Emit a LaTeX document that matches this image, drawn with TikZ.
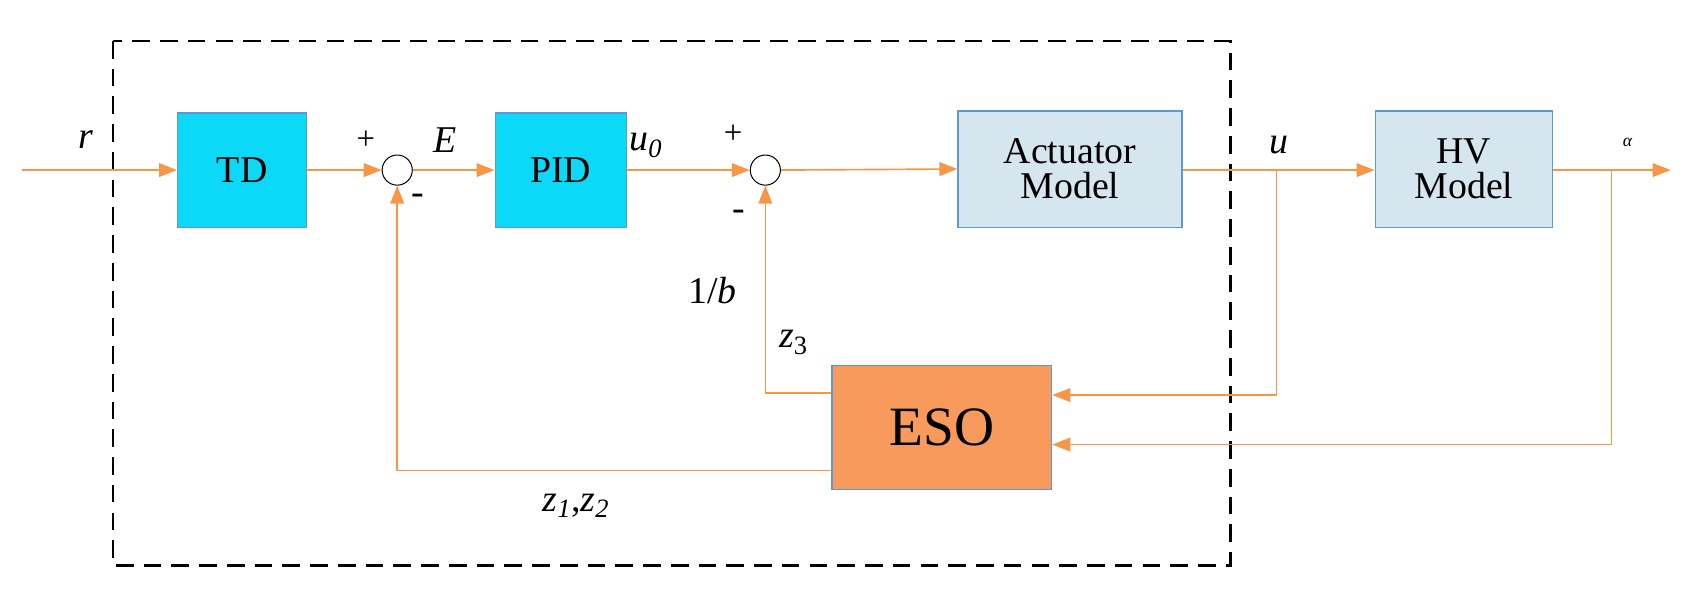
\documentclass[tikz,border=0pt]{standalone}
\usepackage{fontspec}
\setmainfont{Liberation Serif}
\usetikzlibrary{arrows.meta}
\definecolor{ln}{HTML}{F79646}
\definecolor{cy}{HTML}{0BD9F7}
\definecolor{lb}{HTML}{D6E6EF}
\definecolor{bd}{HTML}{5B9BD5}
\definecolor{es}{HTML}{F79A5B}
\begin{document}
\begin{tikzpicture}[x=0.03cm,y=-0.03cm,
 blk/.style={draw=bd,line width=1pt,inner sep=0pt,font=\fontsize{30}{32}\selectfont,align=center},
 sm/.style={circle,draw=black,line width=0.8pt,minimum size=28*0.03cm,inner sep=0pt},
 con/.style={draw=ln,line width=1.3pt},
 arr/.style={con,-{Triangle[length=0.5cm,width=0.38cm]}},
 lab/.style={font=\fontsize{30}{32}\selectfont}]
\useasboundingbox (0,0) rectangle (1570,556);
\draw[dashed,line width=2.2pt,dash pattern=on 14pt off 8pt] (105,38) rectangle (1143,525);
\node[blk,fill=cy,minimum width=120*0.03cm,minimum height=106*0.03cm] (td) at (225,158) {TD};
\node[sm] (s1) at (369,158) {};
\node[blk,fill=cy,minimum width=122*0.03cm,minimum height=106*0.03cm] (pid) at (521,158) {PID};
\node[sm] (s2) at (711,158) {};
\node[blk,fill=lb,minimum width=208*0.03cm,minimum height=108*0.03cm] (act) at (994,157) {Actuator\\[-4pt]Model};
\node[blk,fill=lb,minimum width=165*0.03cm,minimum height=108*0.03cm] (hv) at (1360,157) {HV\\[-4pt]Model};
\node[blk,fill=es,minimum width=204*0.03cm,minimum height=115*0.03cm,font=\fontsize{44}{46}\selectfont] (eso) at (875,397) {ESO};
\coordinate (in) at (20,158);
\coordinate (out) at (1552,158);
\coordinate (bu) at (1186,158);
\coordinate (ba) at (1497,158);
\draw[arr] (in) -- (td.west);
\draw[arr] (td.east) -- (s1.west);
\draw[arr] (s1.east) -- (pid.west);
\draw[arr] (pid.east) -- (s2.west);
\draw[arr] (s2.east) -- (act.west);
\draw[arr] (act.east|-bu) -- (hv.west|-bu);
\draw[arr] (hv.east|-ba) -- (out);
\draw[arr] (bu) -- (1186,367) -- (eso.east|-0,367);
\draw[arr] (ba) -- (1497,413) -- (eso.east|-0,413);
\draw[arr] (eso.west|-0,365) -- (711,365) -- (s2.south);
\draw[arr] (eso.west|-0,437) -- (369,437) -- (s1.south);
\node[lab] at (80,130) {\textit{r}};
\node[lab,font=\fontsize{26}{28}\selectfont] at (340,130) {+};
\node[lab] at (413,130) {\textit{E}};
\node[lab] at (388,185) {-};
\node[lab] at (600,135) {\textit{u}\textsubscript{\textit{0}}};
\node[lab,font=\fontsize{26}{28}\selectfont] at (681,125) {+};
\node[lab] at (686,200) {-};
\node[lab] at (1188,135) {\textit{u}};
\node[font=\fontsize{14}{16}\selectfont] at (1512,132) {\textit{α}};
\node[lab] at (662,270) {1/\textit{b}};
\node[lab] at (737,318) {\textit{z}\textsubscript{3}};
\node[lab] at (535,470) {\textit{z}\textsubscript{\textit{1}},\textit{z}\textsubscript{\textit{2}}};
\end{tikzpicture}
\end{document}
